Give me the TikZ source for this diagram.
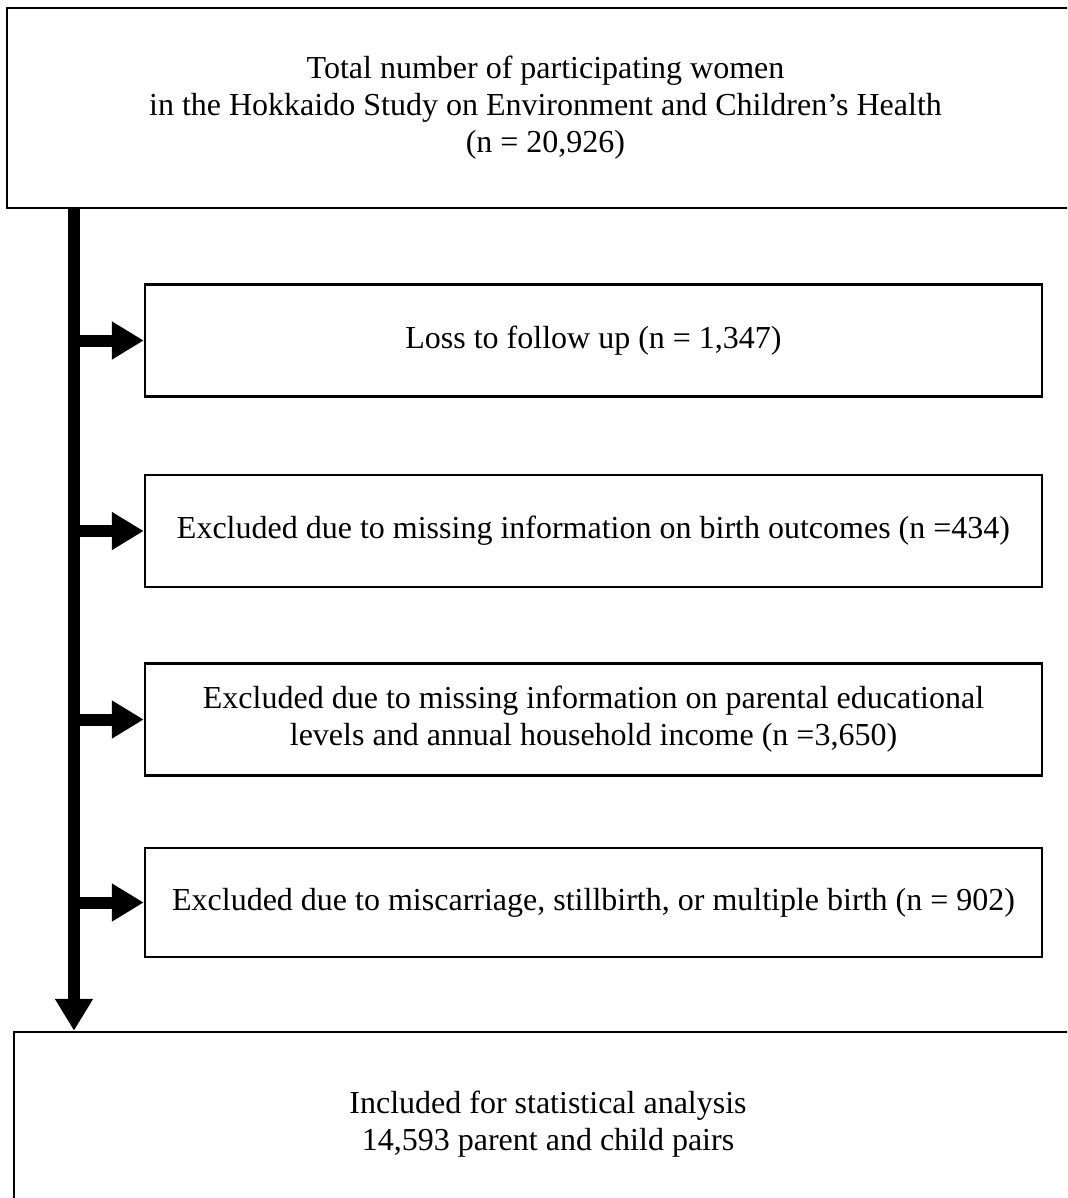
\documentclass[tikz,border=0pt]{standalone}
\usepackage{fontspec}
\setmainfont{Liberation Serif}
\usepackage{tikz}
\usetikzlibrary{arrows.meta,positioning}

\begin{document}
\begin{tikzpicture}[
  x=1pt, y=-1pt,
  every node/.style={font=\fontsize{32}{37}\selectfont},
  stagebox/.style={rectangle, draw=black, line width=2.5pt, fill=white, align=center, inner sep=6pt},
  sidebox/.style={stagebox, minimum width=897pt, minimum height=112pt},
  flowarrow/.style={-{Triangle[length=32pt, width=36pt]}, line width=12pt, draw=black}
]
\clip (0,0) rectangle (1067,1198);
\node[stagebox, minimum width=1077pt, minimum height=200pt] (total) at (545.5,108) {Total number of participating women\\in the Hokkaido Study on Environment and Children’s Health\\(n = 20,926)};
\node[sidebox] (loss) at (593.5,340.5) {Loss to follow up (n = 1,347)};
\node[sidebox, below=76pt of loss] (birth) {Excluded due to missing information on birth outcomes (n =434)};
\node[sidebox, below=74pt of birth] (parental) {Excluded due to missing information on parental educational\\levels and annual household income (n =3,650)};
\node[sidebox, minimum height=109pt, below=70pt of parental] (multiple) {Excluded due to miscarriage, stillbirth, or multiple birth (n = 902)};
\node[stagebox, minimum width=1068pt, minimum height=184pt] (included) at (548,1124) {Included for statistical analysis\\14,593 parent and child pairs};
\coordinate (trunk) at (74,0);

\draw[flowarrow] (total.south -| trunk) -- (included.north -| trunk);
\foreach \stage in {loss,birth,parental,multiple}
  \draw[flowarrow] (\stage.west -| trunk) -- (\stage.west);
\end{tikzpicture}
\end{document}
